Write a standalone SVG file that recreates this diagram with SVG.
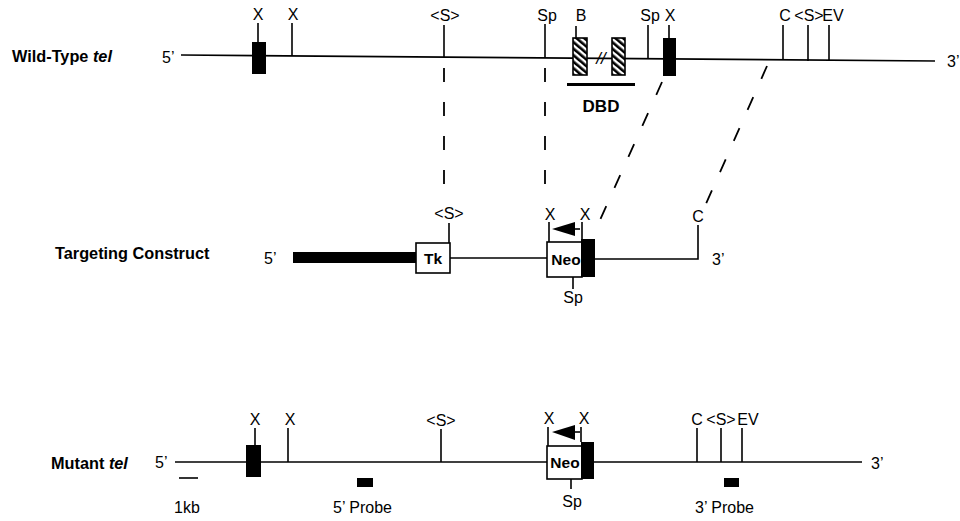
<svg xmlns="http://www.w3.org/2000/svg" width="960" height="521" viewBox="0 0 960 521">
<defs>
<pattern id="hatch" patternUnits="userSpaceOnUse" width="5" height="5" patternTransform="rotate(-50)">
<rect width="5" height="5" fill="#fff"/>
<rect width="2.6" height="5" fill="#000"/>
</pattern>
</defs>
<style>
text{font-family:"Liberation Sans",Arial,sans-serif;fill:#000}
.lbl{font-size:16.3px;font-weight:bold}
.site{font-size:16px;text-anchor:middle}
.end{font-size:16px}
.box{font-size:15.5px;font-weight:bold;text-anchor:middle}
.ln{stroke:#000;stroke-width:1.6;fill:none}
.tk{stroke:#000;stroke-width:1.6}
.dash{stroke:#000;stroke-width:1.8;stroke-dasharray:14 20;fill:none}
.ex{fill:#000}
.wb{fill:#fff;stroke:#000;stroke-width:1.6}
</style>
<rect width="960" height="521" fill="#fff"/>

<g id="wildtype">
<text class="lbl" x="12" y="62">Wild-Type <tspan font-style="italic">tel</tspan></text>
<text class="end" x="162" y="63">5’</text>
<line class="ln" x1="181" y1="55" x2="935" y2="61"/>
<text class="end" x="947" y="67">3’</text>
<line class="tk" x1="258" y1="23" x2="258" y2="42"/>
<rect class="ex" x="252" y="42" width="14" height="32"/>
<text class="site" x="258" y="20">X</text>
<line class="tk" x1="292" y1="23" x2="292" y2="56"/>
<text class="site" x="293" y="20">X</text>
<line class="tk" x1="444" y1="25" x2="444" y2="57"/>
<text class="site" x="445" y="21">&lt;S&gt;</text>
<line class="tk" x1="545" y1="24" x2="545" y2="58"/>
<text class="site" x="547" y="21">Sp</text>
<line class="tk" x1="576" y1="26" x2="576" y2="38"/>
<text class="site" x="581" y="21">B</text>
<rect x="573" y="38" width="14" height="37" fill="url(#hatch)" stroke="#000" stroke-width="1.6"/>
<rect x="612" y="38" width="13" height="37" fill="url(#hatch)" stroke="#000" stroke-width="1.6"/>
<text x="601" y="64" font-size="17" font-style="italic" text-anchor="middle">//</text>
<rect class="ex" x="567" y="83" width="68" height="3"/>
<text x="601" y="112" font-size="17" font-weight="bold" text-anchor="middle">DBD</text>
<line class="tk" x1="648" y1="25" x2="648" y2="59"/>
<text class="site" x="650" y="21">Sp</text>
<line class="tk" x1="669" y1="25" x2="669" y2="38"/>
<rect class="ex" x="663" y="38" width="13" height="38"/>
<text class="site" x="670" y="21">X</text>
<line class="tk" x1="783" y1="25" x2="783" y2="60"/>
<line class="tk" x1="808" y1="25" x2="808" y2="61"/>
<line class="tk" x1="829" y1="25" x2="829" y2="61"/>
<text class="site" x="785" y="21">C</text>
<text class="site" x="809" y="21">&lt;S&gt;</text>
<text class="site" x="833" y="21">EV</text>
</g>

<g id="connectors">
<line class="dash" x1="444" y1="68" x2="444" y2="200"/>
<line class="dash" x1="545" y1="68" x2="545" y2="200"/>
<line class="dash" x1="662" y1="82" x2="600" y2="220"/>
<line class="dash" x1="767" y1="66" x2="705" y2="206"/>
</g>

<g id="construct">
<text class="lbl" x="55" y="259">Targeting Construct</text>
<text class="end" x="264" y="264">5’</text>
<rect class="ex" x="293" y="252" width="124" height="11"/>
<rect class="wb" x="416" y="243" width="34" height="30"/>
<text class="box" x="433" y="264">Tk</text>
<line class="tk" x1="449" y1="223" x2="449" y2="243"/>
<text class="site" x="449" y="219">&lt;S&gt;</text>
<line class="ln" x1="450" y1="258" x2="547" y2="258"/>
<rect class="wb" x="547" y="242" width="35" height="35"/>
<rect class="ex" x="581" y="239" width="14" height="38"/>
<text class="box" x="566" y="265">Neo</text>
<line class="tk" x1="549" y1="222" x2="549" y2="242"/>
<line class="tk" x1="582" y1="222" x2="582" y2="239"/>
<text class="site" x="550" y="220">X</text>
<text class="site" x="585" y="220">X</text>
<polygon points="552,229 575,222 575,236" fill="#000"/>
<line class="tk" x1="575" y1="229" x2="580" y2="229"/>
<line class="tk" x1="573" y1="277" x2="573" y2="289"/>
<text class="site" x="573" y="303">Sp</text>
<polyline class="ln" points="595,259 698,259 698,225"/>
<text class="site" x="698" y="222">C</text>
<text class="end" x="712" y="265">3’</text>
</g>

<g id="mutant">
<text class="lbl" x="51" y="469">Mutant <tspan font-style="italic">tel</tspan></text>
<text class="end" x="155" y="468">5’</text>
<line class="ln" x1="175" y1="462" x2="862" y2="462"/>
<text class="end" x="871" y="469">3’</text>
<line class="tk" x1="179" y1="478" x2="198" y2="478"/>
<text class="end" x="174" y="513">1kb</text>
<line class="tk" x1="255" y1="428" x2="255" y2="445"/>
<rect class="ex" x="246" y="445" width="15" height="32"/>
<text class="site" x="255" y="425">X</text>
<line class="tk" x1="288" y1="428" x2="288" y2="462"/>
<text class="site" x="290" y="425">X</text>
<line class="tk" x1="441" y1="429" x2="441" y2="462"/>
<text class="site" x="441" y="426">&lt;S&gt;</text>
<rect class="ex" x="357" y="478" width="16" height="9"/>
<text class="end" x="333" y="513">5’ Probe</text>
<rect class="wb" x="547" y="446" width="35" height="33"/>
<rect class="ex" x="581" y="442" width="13" height="37"/>
<text class="box" x="565" y="468">Neo</text>
<line class="tk" x1="548" y1="427" x2="548" y2="446"/>
<line class="tk" x1="581" y1="427" x2="581" y2="442"/>
<text class="site" x="549" y="424">X</text>
<text class="site" x="584" y="424">X</text>
<polygon points="552,432 575,425 575,440" fill="#000"/>
<line class="tk" x1="575" y1="432" x2="580" y2="432"/>
<line class="tk" x1="571" y1="479" x2="571" y2="489"/>
<text class="site" x="572" y="507">Sp</text>
<line class="tk" x1="697" y1="428" x2="697" y2="462"/>
<line class="tk" x1="721" y1="428" x2="721" y2="462"/>
<line class="tk" x1="742" y1="428" x2="742" y2="462"/>
<text class="site" x="697" y="425">C</text>
<text class="site" x="721" y="425">&lt;S&gt;</text>
<text class="site" x="748" y="425">EV</text>
<rect class="ex" x="724" y="478" width="15" height="9"/>
<text class="end" x="695" y="513">3’ Probe</text>
</g>
</svg>
